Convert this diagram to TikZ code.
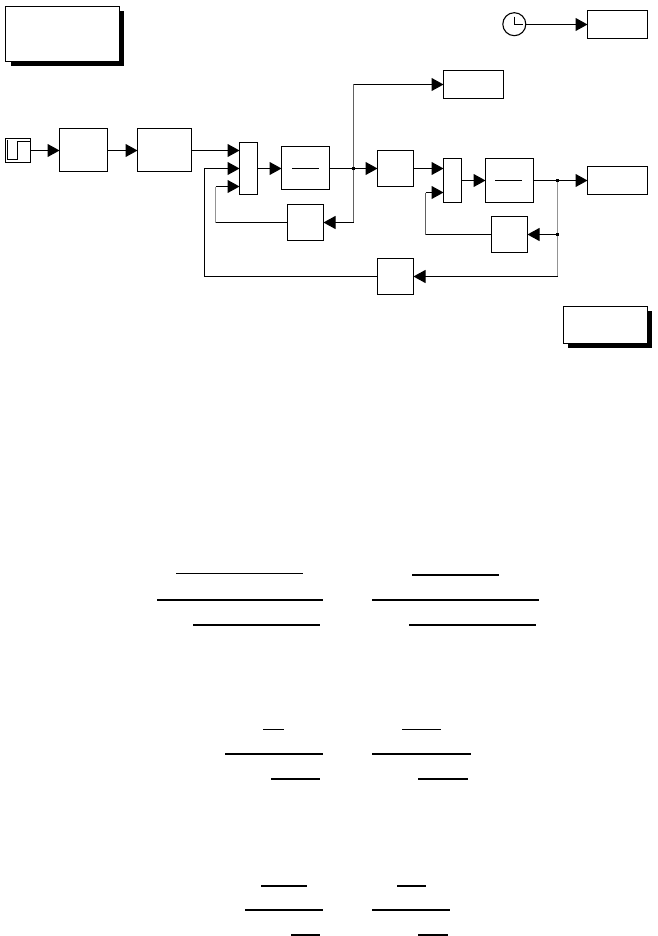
\documentclass[tikz,border=0pt]{standalone}
\usetikzlibrary{arrows.meta}
\newcommand{\blk}[5]{\node[blk,minimum width={#4pt-#2pt},minimum height={#5pt-#3pt}] (#1) at ({(#2+#4)/2},{(#3+#5)/2}) {};}
\tikzset{
  blk/.style={draw=black,fill=white,line width=1pt,inner sep=0pt,outer sep=0pt,rectangle},
  wire/.style={draw=black,line width=1pt},
  arrowed/.style={wire,-{Triangle[length=12pt,width=13pt]}},
  vlight/.style={draw=black!42,line width=1pt},
  vdark/.style={draw=black!62,line width=1pt},
  jun/.style={rectangle,fill=black,inner sep=0pt,minimum size=3pt},
  bar/.style={draw=black,line width=2pt},
  thinbar/.style={draw=black,line width=1pt},
  sym/.style={draw=black,line width=1pt}
}
\begin{document}
\begin{tikzpicture}[x=1pt,y=-1pt]
\useasboundingbox (0,0) rectangle (657,936);
% shadow boxes
\fill[black] (11,11) rectangle (124,66);
\blk{note1}{5.5}{6.5}{119.5}{61.5}
\fill[black] (568,311) rectangle (652,348);
\blk{note2}{563.5}{306.5}{647.5}{343.5}
% blocks
\blk{stepsrc}{5.5}{138.5}{30.5}{162.5}
\blk{a}{59.5}{128.5}{107.5}{171.5}
\blk{b}{137.5}{128.5}{191.5}{171.5}
\blk{muxa}{239.5}{142.5}{257.5}{194.5}
\blk{tfa}{281.5}{146.5}{329.5}{189.5}
\blk{fba}{287.5}{204.5}{323.5}{240.5}
\blk{scope}{443.5}{70.5}{503.5}{98.5}
\blk{gain}{377.5}{150.5}{413.5}{186.5}
\blk{muxb}{443.5}{158.5}{461.5}{202.5}
\blk{tfb}{485.5}{158.5}{533.5}{202.5}
\blk{sink}{587.5}{166.5}{647.5}{194.5}
\blk{fbb}{491.5}{216.5}{527.5}{252.5}
\blk{fbc}{377.5}{258.5}{413.5}{294.5}
\blk{tsink}{587.5}{10.5}{647.5}{38.5}
\node[circle,draw=black,fill=white,line width=1.1pt,inner sep=0pt,outer sep=0pt,minimum size=23pt] (clk) at (514.3,24.2) {};
% icons
\draw[sym,line width=1.5pt] (stepsrc.south west) rectangle (stepsrc.north east);
\draw[sym] (7,159.5) -- (17.5,159.5) -- (17.5,141.5) -- (30,141.5);
\draw[sym] (7.5,140) -- (7.5,159.5);
\draw[sym] (514.5,16.7) -- (514.5,24.5) -- (522.7,24.5);
\draw[sym] (292,168.5) -- (319,168.5);
\draw[sym] (495,180.5) -- (522,180.5);
% levels and corners
\coordinate (l1) at (0,150.5);
\coordinate (l2) at (0,168.5);
\coordinate (l3) at (0,186.5);
\coordinate (l4) at (0,180.5);
\coordinate (l5) at (0,192.5);
\coordinate (l6) at (0,222.5);
\coordinate (l7) at (0,234.5);
\coordinate (l8) at (0,276.5);
\coordinate (l9) at (0,84.5);
\coordinate (l10) at (0,24.5);
\coordinate (ja) at (353.5,168.5);
\coordinate (jb) at (557.5,180.5);
\coordinate (jc) at (557.5,234.5);
\coordinate (ca) at (353.5,84.5);
\coordinate (cb) at (353.5,222.5);
\coordinate (cc) at (215.5,222.5);
\coordinate (cd) at (215.5,186.5);
\coordinate (ce) at (425.5,234.5);
\coordinate (cf) at (425.5,192.5);
\coordinate (cg) at (557.5,276.5);
\coordinate (ch) at (204.5,276.5);
\coordinate (ci) at (204.5,168.5);
% connectors
\draw[arrowed] (stepsrc.east |- l1) -- (a.west |- l1);
\draw[arrowed] (a.east |- l1) -- (b.west |- l1);
\draw[arrowed] (b.east |- l1) -- (muxa.west |- l1);
\draw[arrowed] (muxa.east |- l2) -- (tfa.west |- l2);
\draw[wire] (tfa.east |- l2) -- (ja);
\draw[arrowed] (ja) -- (gain.west |- l2);
\draw[vdark] (ja) -- (ca);
\draw[arrowed] (ca) -- (scope.west |- l9);
\draw[vdark] (ja) -- (cb);
\draw[arrowed] (cb) -- (fba.east |- l6);
\draw[wire] (fba.west |- l6) -- (cc);
\draw[vlight] (cc) -- (cd);
\draw[arrowed] (cd) -- (muxa.west |- l3);
\draw[arrowed] (gain.east |- l2) -- (muxb.west |- l2);
\draw[arrowed] (muxb.east |- l4) -- (tfb.west |- l4);
\draw[arrowed] (tfb.east |- l4) -- (sink.west |- l4);
\draw[vlight] (jb) -- (cg);
\draw[arrowed] (jc) -- (fbb.east |- l7);
\draw[wire] (fbb.west |- l7) -- (ce);
\draw[vdark] (ce) -- (cf);
\draw[arrowed] (cf) -- (muxb.west |- l5);
\draw[arrowed] (cg) -- (fbc.east |- l8);
\draw[wire] (fbc.west |- l8) -- (ch) -- (ci);
\draw[arrowed] (ci) -- (muxa.west |- l2);
\draw[arrowed] (clk.east |- l10) -- (tsink.west |- l10);
% junction dots
\node[jun] (dota) at (ja) {};
\node[jun] (dotb) at (jb) {};
\node[jun] (dotc) at (jc) {};
% fraction bars
\draw[thinbar] (176,573.5) -- (303,573.5);
\draw[bar] (157,600) -- (323,600);
\draw[bar] (193,625) -- (320,625);
\draw[bar] (412,575) -- (499,575);
\draw[bar] (372,600) -- (539,600);
\draw[bar] (409,625) -- (536,625);
\draw[thinbar] (263,729.5) -- (284,729.5);
\draw[bar] (225,754) -- (323,754);
\draw[bar] (271,779) -- (320,779);
\draw[thinbar] (402,729.5) -- (440.7,729.5);
\draw[bar] (372,754) -- (471,754);
\draw[bar] (418,779) -- (468,779);
\draw[bar] (261,886) -- (307,886);
\draw[bar] (245,910) -- (323,910);
\draw[bar] (291,935) -- (320,935);
\draw[bar] (397,886) -- (426,886);
\draw[bar] (372,910) -- (450,910);
\draw[bar] (418,935) -- (448,935);
\end{tikzpicture}
\end{document}
